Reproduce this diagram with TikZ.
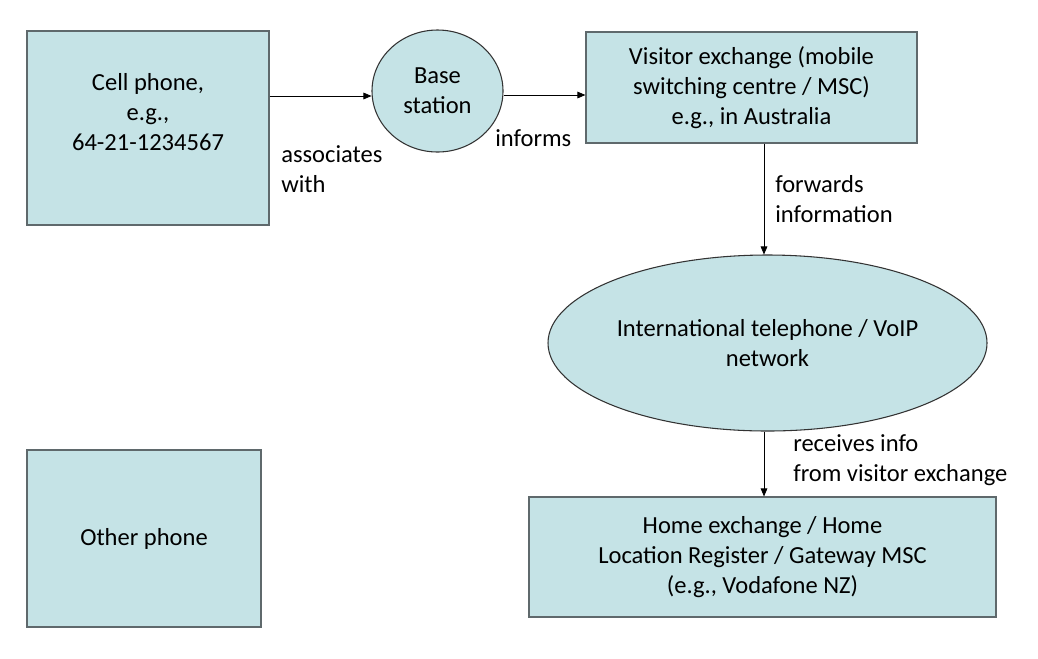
\documentclass[tikz,border=0pt]{standalone}
\usepackage{fontspec}
\setmainfont{Carlito}
\usetikzlibrary{shapes.geometric,arrows.meta}
\definecolor{boxfill}{RGB}{197,227,230}
\definecolor{boxline}{RGB}{95,105,108}

\begin{document}
\begin{tikzpicture}[x=0.75pt,y=-0.75pt,
    every node/.style={font=\fontsize{18.4pt}{22.5pt}\selectfont, align=center},
    box/.style={rectangle, draw=boxline, line width=0.9pt, fill=boxfill},
    oval/.style={ellipse, draw=black!80, line width=0.8pt, fill=boxfill, inner sep=0pt},
    lbl/.style={anchor=west, inner sep=0pt, align=left},
    arr/.style={-{Triangle[length=6pt,width=5pt]}, line width=0.6pt}]
    \useasboundingbox (0,0) rectangle (1038,658);
    \node[box, minimum width=181.5pt, minimum height=145.5pt, text depth=24pt] (cell) at (148,128)
        {Cell phone,\\ e.g.,\\ 64-21-1234567};
    \node[oval, minimum width=98.25pt, minimum height=91.5pt] (base) at (437.5,91)
        {Base\\ station};
    \node[box, minimum width=248.25pt, minimum height=83.25pt] (visitor) at (751.5,87.5)
        {Visitor exchange (mobile\\ switching centre / MSC)\\ e.g., in Australia};
    \node[oval, minimum width=329.25pt, minimum height=132pt] (net) at (767.5,343)
        {International telephone / VoIP\\ network};
    \node[box, minimum width=350.25pt, minimum height=90pt] (home) at (762.5,557)
        {Home exchange / Home\\ Location Register / Gateway MSC\\ (e.g., Vodafone NZ)};
    \node[box, minimum width=175.5pt, minimum height=132.75pt] (other) at (144,538.5)
        {Other phone};

    \draw[arr] (cell.east |- 0,96) -- (base.west |- 0,96);
    \draw[arr] (base.east |- 0,95) -- (visitor.west |- 0,95);
    \draw[arr] (visitor.south -| 764,0) -- (net.north -| 764,0);
    \draw[arr] (net.south -| 764,0) -- (home.north -| 764,0);

    \node[lbl] (assoc) at (281,169) {associates\\ with};
    \node[lbl] (informs) at (495,138) {informs};
    \node[lbl] (fwd) at (775,199) {forwards\\ information};
    \node[lbl] (recv) at (793,460) {receives info\\ from visitor exchange};
\end{tikzpicture}
\end{document}
